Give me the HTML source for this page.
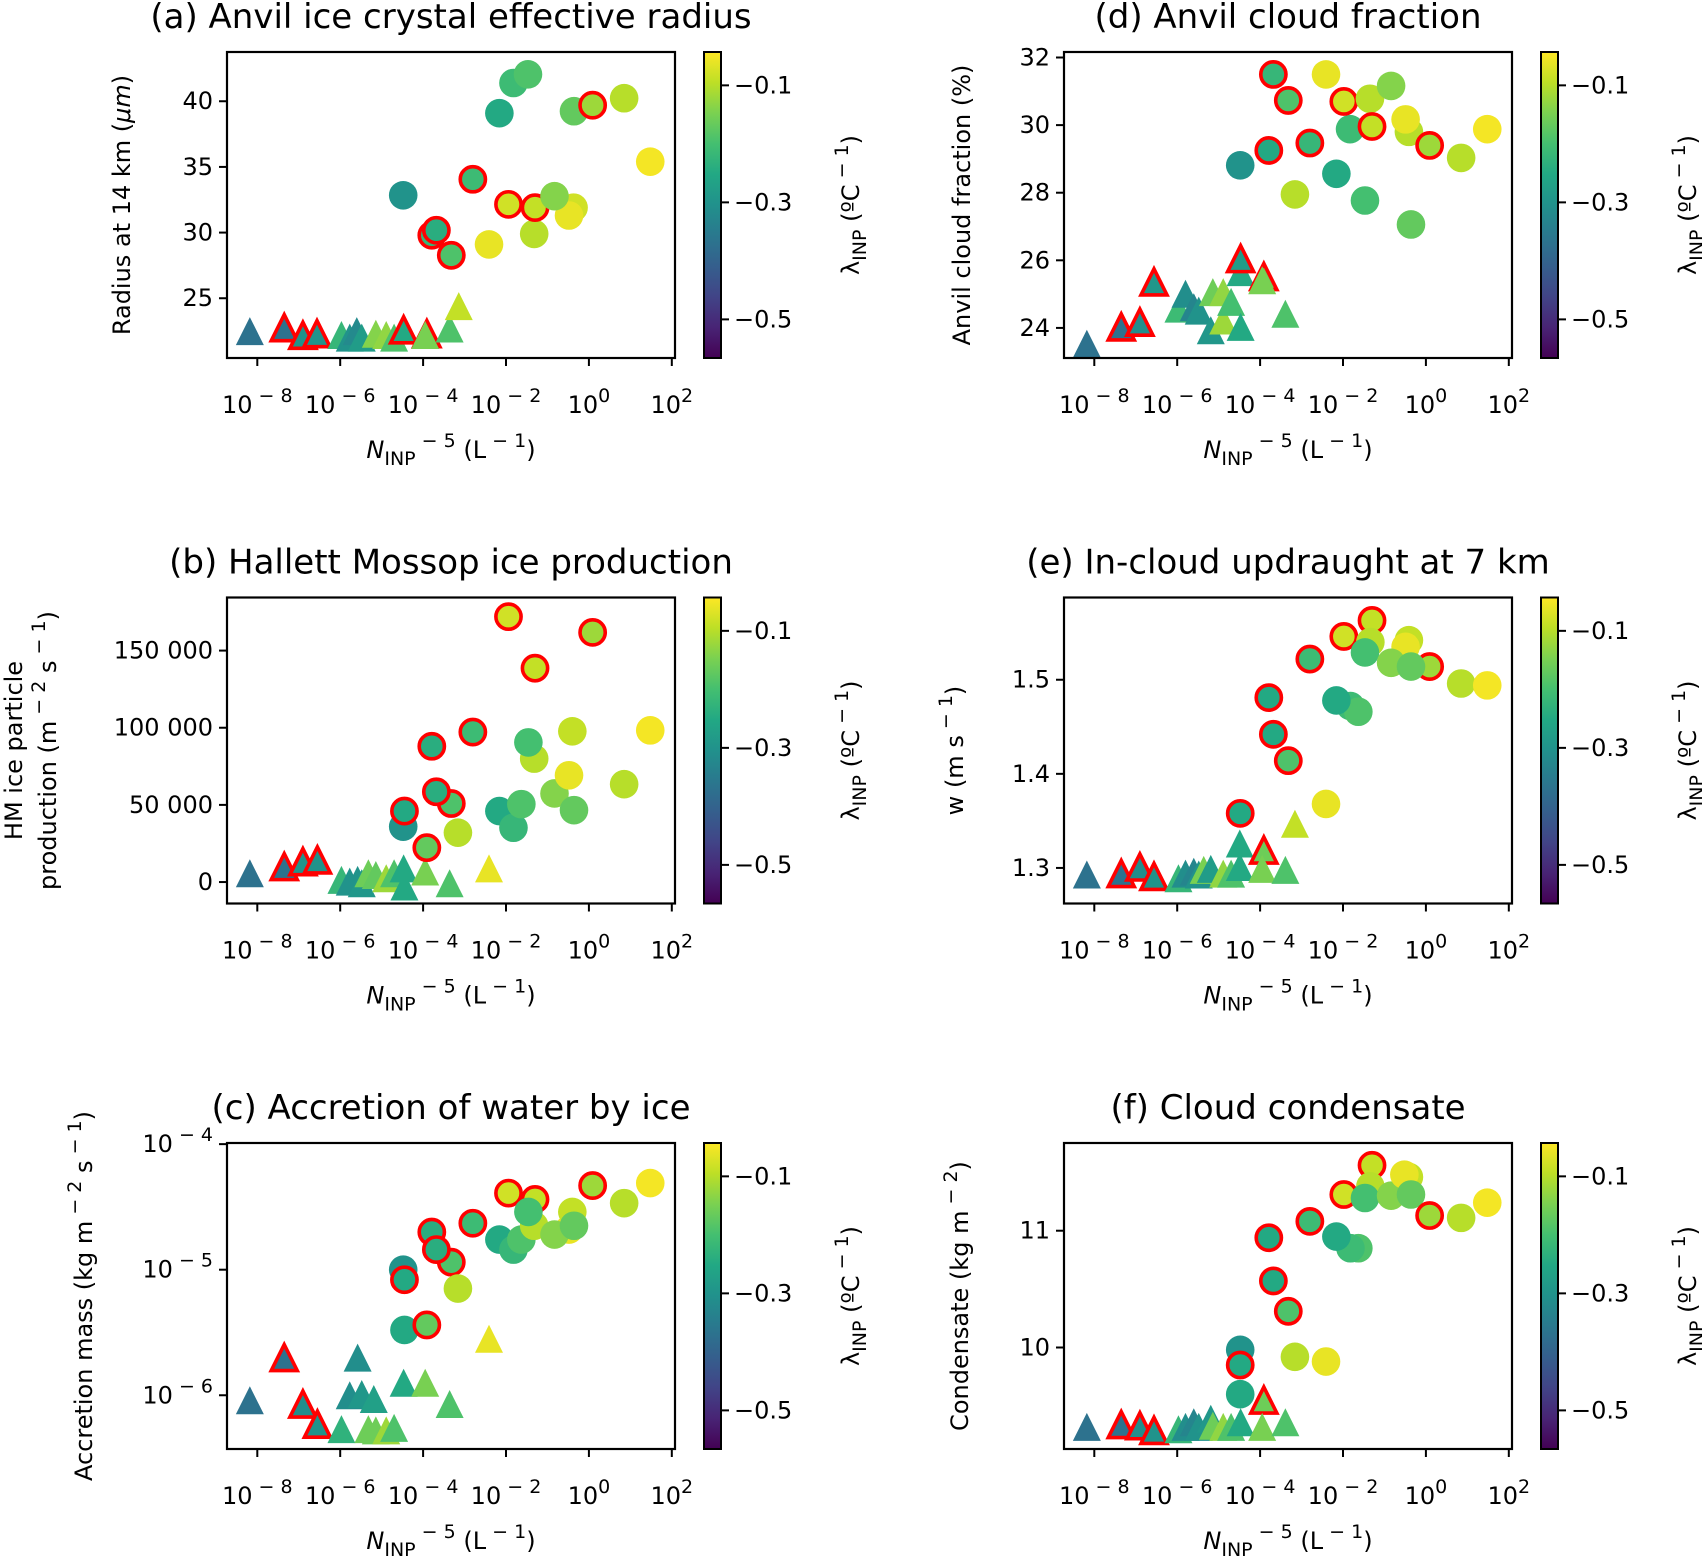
<!DOCTYPE html>
<html><head><meta charset="utf-8"><style>
html,body{margin:0;padding:0;background:#fff;}
svg{display:block;font-family:"DejaVu Sans","Liberation Sans",sans-serif;}
</style></head><body>
<svg id="fig" width="1702" height="1557" viewBox="0 0 1702 1557" xmlns="http://www.w3.org/2000/svg">
<defs>
<linearGradient id="vir" x1="0" y1="1" x2="0" y2="0">
<stop offset="0" stop-color="#440154"/><stop offset="0.1" stop-color="#482475"/><stop offset="0.2" stop-color="#414487"/><stop offset="0.3" stop-color="#355f8d"/><stop offset="0.4" stop-color="#2a788e"/><stop offset="0.5" stop-color="#21918c"/><stop offset="0.6" stop-color="#22a884"/><stop offset="0.7" stop-color="#44bf70"/><stop offset="0.8" stop-color="#7ad151"/><stop offset="0.9" stop-color="#bddf26"/><stop offset="1" stop-color="#fde725"/>
</linearGradient>
</defs>
</svg>
<script>
// rows: [log10 N_INP, value, lambda, redEdge]
const aTri=[[-8.18,22.5,-0.37,0],[-7.35,22.76,-0.37,1],[-6.90,22.18,-0.30,1],[-6.56,22.3,-0.30,1],[-5.97,22.2,-0.22,0],[-5.77,22.0,-0.30,0],[-5.60,22.5,-0.32,0],[-5.48,22.0,-0.28,0],[-5.14,22.3,-0.14,0],[-4.89,22.2,-0.13,0],[-4.70,22.0,-0.19,0],[-4.47,22.6,-0.25,1],[-3.91,22.3,-0.19,1],[-3.95,22.2,-0.15,0],[-3.36,22.7,-0.19,0],[-3.14,24.4,-0.09,0]];
const aCirc=[[-4.48,32.84,-0.30,0],[-3.79,29.8,-0.22,1],[-3.68,30.18,-0.24,1],[-3.32,28.27,-0.19,1],[-2.80,34.06,-0.21,1],[-2.41,29.1,-0.06,0],[-2.16,39.09,-0.25,0],[-1.94,32.15,-0.08,1],[-1.82,41.39,-0.21,0],[-1.47,42.05,-0.19,0],[-1.32,29.9,-0.10,0],[-1.30,31.9,-0.09,1],[-0.37,31.9,-0.08,0],[-0.48,31.3,-0.06,0],[-0.83,32.77,-0.14,0],[-0.36,39.24,-0.17,0],[0.09,39.7,-0.12,1],[0.85,40.23,-0.10,0],[1.48,35.4,-0.05,0]];
const bTri=[[-8.18,5700,-0.37,0],[-7.35,10000,-0.37,1],[-6.90,13200,-0.30,1],[-6.55,14300,-0.30,1],[-5.97,1400,-0.22,0],[-5.77,300,-0.30,0],[-5.58,1400,-0.30,0],[-5.48,-800,-0.29,0],[-5.32,5700,-0.16,0],[-5.14,4600,-0.17,0],[-4.89,2500,-0.12,0],[-4.70,5700,-0.19,0],[-4.47,8900,-0.25,0],[-4.45,-2900,-0.25,0],[-3.95,6800,-0.15,0],[-3.36,-800,-0.19,0],[-2.41,8900,-0.06,0]];
const bCirc=[[-4.48,35900,-0.30,0],[-4.45,46000,-0.25,1],[-3.91,22300,-0.17,1],[-3.79,88000,-0.24,1],[-3.32,50900,-0.19,1],[-3.68,58500,-0.24,1],[-3.16,32000,-0.10,0],[-2.80,97200,-0.21,1],[-2.16,46000,-0.25,0],[-1.94,172000,-0.08,1],[-1.82,35200,-0.22,0],[-1.63,50500,-0.19,0],[-1.32,80000,-0.10,0],[-1.46,90500,-0.20,0],[-1.30,138600,-0.09,1],[-0.83,57400,-0.14,0],[-0.48,69200,-0.06,0],[-0.40,97700,-0.09,0],[-0.36,46600,-0.17,0],[0.09,161800,-0.12,1],[0.85,63400,-0.10,0],[1.48,98300,-0.05,0]];
const cTri=[[-8.18,-6.04,-0.37,0],[-7.35,-5.70,-0.37,1],[-6.90,-6.07,-0.31,1],[-6.55,-6.23,-0.30,1],[-5.97,-6.27,-0.23,0],[-5.77,-6.00,-0.31,0],[-5.58,-5.70,-0.31,0],[-5.48,-5.99,-0.29,0],[-5.19,-6.03,-0.27,0],[-5.32,-6.27,-0.16,0],[-5.14,-6.28,-0.16,0],[-4.89,-6.28,-0.12,0],[-4.70,-6.26,-0.19,0],[-4.47,-5.90,-0.25,0],[-3.95,-5.90,-0.15,0],[-3.36,-6.07,-0.19,0],[-2.41,-5.55,-0.06,0]];
const cCirc=[[-4.48,-5.00,-0.30,0],[-4.45,-5.08,-0.25,1],[-4.45,-5.48,-0.25,0],[-3.91,-5.44,-0.17,1],[-3.79,-4.70,-0.24,1],[-3.32,-4.94,-0.19,1],[-3.68,-4.84,-0.24,1],[-3.16,-5.15,-0.10,0],[-2.80,-4.63,-0.21,1],[-2.16,-4.76,-0.25,0],[-1.82,-4.84,-0.22,0],[-1.63,-4.76,-0.19,0],[-1.94,-4.39,-0.08,1],[-1.30,-4.44,-0.09,1],[-1.32,-4.65,-0.10,0],[-1.46,-4.54,-0.20,0],[-0.48,-4.68,-0.06,0],[-0.83,-4.72,-0.14,0],[-0.40,-4.54,-0.09,0],[-0.36,-4.65,-0.17,0],[0.09,-4.33,-0.12,1],[0.85,-4.47,-0.10,0],[1.48,-4.31,-0.05,0]];
const dTri=[[-8.18,23.53,-0.37,0],[-7.35,24.03,-0.37,1],[-6.90,24.17,-0.31,1],[-6.56,25.36,-0.29,1],[-5.97,24.57,-0.21,0],[-5.80,25.01,-0.31,0],[-5.60,24.61,-0.33,0],[-5.48,24.51,-0.30,0],[-5.19,23.93,-0.29,0],[-5.14,25.06,-0.16,0],[-4.89,25.06,-0.13,0],[-4.89,24.22,-0.12,0],[-4.70,24.77,-0.20,0],[-4.47,24.03,-0.25,0],[-4.47,25.65,-0.25,0],[-4.47,26.05,-0.28,1],[-3.91,25.52,-0.16,1],[-3.95,25.41,-0.15,0],[-3.39,24.42,-0.19,0]];
const dCirc=[[-4.48,28.81,-0.30,0],[-3.79,29.25,-0.25,1],[-3.68,31.50,-0.22,1],[-3.32,30.73,-0.19,1],[-3.16,27.95,-0.10,0],[-2.80,29.47,-0.22,1],[-2.41,31.50,-0.06,0],[-2.16,28.56,-0.25,0],[-1.83,29.88,-0.21,0],[-1.98,30.70,-0.08,1],[-1.47,27.77,-0.20,0],[-1.35,30.78,-0.10,0],[-1.30,29.96,-0.09,1],[-0.84,31.16,-0.14,0],[-0.41,29.80,-0.10,0],[-0.49,30.17,-0.06,0],[-0.36,27.06,-0.17,0],[0.09,29.40,-0.12,1],[0.85,29.03,-0.10,0],[1.48,29.88,-0.05,0]];
const eTri=[[-8.18,1.293,-0.37,0],[-7.35,1.294,-0.37,1],[-6.90,1.301,-0.31,1],[-6.56,1.291,-0.30,1],[-5.97,1.289,-0.22,0],[-5.80,1.294,-0.31,0],[-5.60,1.296,-0.33,0],[-5.48,1.293,-0.30,0],[-5.36,1.298,-0.15,0],[-5.19,1.299,-0.28,0],[-4.89,1.294,-0.13,0],[-4.70,1.294,-0.19,0],[-4.49,1.326,-0.25,0],[-4.49,1.301,-0.25,0],[-3.91,1.319,-0.16,1],[-3.95,1.299,-0.15,0],[-3.39,1.298,-0.19,0],[-3.16,1.347,-0.09,0]];
const eCirc=[[-4.48,1.358,-0.25,1],[-3.79,1.481,-0.25,1],[-3.68,1.442,-0.25,1],[-3.32,1.414,-0.19,1],[-2.80,1.522,-0.21,1],[-2.41,1.368,-0.06,0],[-1.82,1.472,-0.21,0],[-1.63,1.466,-0.19,0],[-2.16,1.478,-0.25,0],[-1.98,1.546,-0.08,1],[-1.30,1.563,-0.09,1],[-1.34,1.540,-0.10,0],[-1.47,1.529,-0.20,0],[-0.41,1.542,-0.09,0],[-0.49,1.535,-0.06,0],[0.09,1.514,-0.12,1],[-0.84,1.518,-0.14,0],[-0.36,1.514,-0.17,0],[0.85,1.496,-0.10,0],[1.48,1.494,-0.05,0]];
const fTri=[[-8.18,9.32,-0.37,0],[-7.35,9.34,-0.37,1],[-6.90,9.33,-0.31,1],[-6.56,9.29,-0.30,1],[-5.97,9.30,-0.22,0],[-5.80,9.32,-0.31,0],[-5.60,9.36,-0.33,0],[-5.48,9.32,-0.30,0],[-5.19,9.39,-0.29,0],[-5.14,9.33,-0.16,0],[-4.89,9.32,-0.13,0],[-4.70,9.32,-0.19,0],[-4.47,9.36,-0.25,0],[-3.91,9.55,-0.16,1],[-3.95,9.32,-0.15,0],[-3.39,9.36,-0.19,0]];
const fCirc=[[-4.48,9.98,-0.30,0],[-4.48,9.85,-0.25,1],[-4.48,9.60,-0.25,0],[-3.79,10.94,-0.25,1],[-3.68,10.57,-0.25,1],[-3.32,10.31,-0.19,1],[-3.16,9.92,-0.10,0],[-2.80,11.08,-0.21,1],[-2.41,9.88,-0.06,0],[-1.63,10.85,-0.19,0],[-1.82,10.85,-0.21,0],[-2.16,10.95,-0.25,0],[-1.98,11.31,-0.08,1],[-1.30,11.56,-0.09,1],[-1.34,11.38,-0.10,0],[-1.47,11.28,-0.20,0],[-0.84,11.30,-0.14,0],[-0.41,11.46,-0.09,0],[-0.52,11.48,-0.06,0],[-0.36,11.31,-0.17,0],[0.09,11.13,-0.12,1],[0.85,11.11,-0.10,0],[1.48,11.24,-0.05,0]];
const xTickExps=[-8,-6,-4,-2,0,2];
const cbarTicks=[-0.1,-0.3,-0.5];
const aTicks=[25,30,35,40];
const bTicks=[0,50000,100000,150000];
const bTickLabels=["0","50 000","100 000","150 000"];
const cTickExps=[-6,-5,-4];
const dTicks=[24,26,28,30,32];
const eTicks=[1.3,1.4,1.5];
const fTicks=[10,11];

const NS="http://www.w3.org/2000/svg";
const svg=document.getElementById('fig');
function el(tag,attrs,parent){const e=document.createElementNS(NS,tag);for(const k in attrs)e.setAttribute(k,attrs[k]);(parent||svg).appendChild(e);return e;}
const vstops=[[68,1,84],[72,36,117],[65,68,135],[53,95,141],[42,120,142],[33,145,140],[34,168,132],[68,191,112],[122,209,81],[189,223,38],[253,231,37]];
const LMIN=-0.566,LMAX=-0.043;
function viridis(l){let t=(l-LMIN)/(LMAX-LMIN);t=Math.max(0,Math.min(1,t))*10;const i=Math.min(9,Math.floor(t)),f=t-i;const a=vstops[i],b=vstops[i+1];return 'rgb('+a.map((v,k)=>Math.round(v+(b[k]-v)*f)).join(',')+')';}
const XMIN=-8.731,XMAX=2.077,W=448,H=306;
const FS=24,SS=19;
// segments: [text, kind] kind: n normal, i italic, u superscript, d subscript
function rich(parent,attrs,segs){
  const t=el('text',attrs,parent);let lvl=0;
  segs.forEach(s=>{
    const target=s[1]==='u'?-11:(s[1]==='d'?7:0);
    const a={dy:target-lvl};lvl=target;
    if(s[1]==='u'||s[1]==='d')a['font-size']=SS;
    if(s[1]==='i')a['font-style']='italic';
    const sp=el('tspan',a,t);sp.textContent=s[0];
  });
  return t;}

const panels=[
 {id:'a',x0:227,y0:52,title:'(a) Anvil ice crystal effective radius',tri:aTri,circ:aCirc,ymin:20.45,ymax:43.75,log:false,ticks:aTicks,labels:aTicks.map(String),ylab:[[['Radius at 14 km  (','n'],['μm','i'],[')','n']]],ylx:[130]},
 {id:'b',x0:227,y0:597.5,title:'(b) Hallett Mossop ice production',tri:bTri,circ:bCirc,ymin:-13900,ymax:184400,log:false,ticks:bTicks,labels:bTickLabels,ylab:[[['HM ice particle','n']],[['production  (m','n'],[' − 2','u'],[' s','n'],[' − 1','u'],[')','n']]],ylx:[22,56]},
 {id:'c',x0:227,y0:1143,title:'(c) Accretion of water by ice',tri:cTri,circ:cCirc,ymin:-6.428,ymax:-3.991,log:true,ticks:cTickExps,labels:null,ylab:[[['Accretion mass  (kg  m','n'],[' − 2','u'],[' s','n'],[' − 1','u'],[')','n']]],ylx:[92]},
 {id:'d',x0:1064,y0:52,title:'(d) Anvil cloud fraction',tri:dTri,circ:dCirc,ymin:23.11,ymax:32.163,log:false,ticks:dTicks,labels:dTicks.map(String),ylab:[[['Anvil cloud fraction (%)','n']]],ylx:[970]},
 {id:'e',x0:1064,y0:597.5,title:'(e) In-cloud updraught at 7 km',tri:eTri,circ:eCirc,ymin:1.2622,ymax:1.5874,log:false,ticks:eTicks,labels:eTicks.map(v=>v.toFixed(1)),ylab:[[['w (m  s','n'],[' − 1','u'],[')','n']]],ylx:[963]},
 {id:'f',x0:1064,y0:1143,title:'(f) Cloud condensate',tri:fTri,circ:fCirc,ymin:9.131,ymax:11.751,log:false,ticks:fTicks,labels:fTicks.map(String),ylab:[[['Condensate (kg  m','n'],[' − 2','u'],[')','n']]],ylx:[968]}
];

panels.forEach(p=>{
  const g=el('g',{});
  
  
  const xs=v=>p.x0+(v-XMIN)/(XMAX-XMIN)*W;
  const ys=v=>p.y0+(p.ymax-v)/(p.ymax-p.ymin)*H;
  const tt=el('text',{x:p.x0+W/2,y:p.y0-24,'font-size':34,'text-anchor':'middle'},g);
  tt.textContent=p.title;
  
  
  const mg=el('g',{},g);
  
  
  p.tri.forEach(d=>{
    const cx=xs(d[0]),cy=ys(d[1]),r=d[3]?13:14;
    const m=el('polygon',{points:`${cx},${cy-r} ${cx-r},${cy+r} ${cx+r},${cy+r}`,fill:viridis(d[2]),stroke:d[3]?'#ff0000':'none','stroke-width':3.6,'stroke-linejoin':'miter'},mg);
    
    
  });
  p.circ.forEach(d=>{
    const cx=xs(d[0]),cy=ys(d[1]);
    const m=el('circle',{cx:cx,cy:cy,r:d[3]?12.6:14.3,fill:viridis(d[2]),stroke:d[3]?'#ff0000':'none','stroke-width':3.6},mg);
    
    
  });
  const fr=el('rect',{x:p.x0,y:p.y0,width:W,height:H,fill:'none',stroke:'#000','stroke-width':2.2},g);
  
  
  const xg=el('g',{},g);
  
  
  xTickExps.forEach(e=>{
    const x=xs(e);
    el('line',{x1:x,x2:x,y1:p.y0+H,y2:p.y0+H+8,stroke:'#000','stroke-width':2},xg);
    const lab=rich(xg,{x:x,y:p.y0+H+55,'font-size':FS,'text-anchor':'middle'},[['10','n'],[e<0?' − '+(-e):String(e),'u']]);
    
    
  });
  const xl=rich(xg,{x:p.x0+W/2,y:p.y0+H+100,'font-size':FS,'text-anchor':'middle'},[['N','i'],['INP','d'],[' − 5','u'],[' (L','n'],[' − 1','u'],[')','n']]);
  
  
  const yg=el('g',{},g);
  
  
  p.ticks.forEach((v,i)=>{
    const y=ys(v);
    el('line',{x1:p.x0-8,x2:p.x0,y1:y,y2:y,stroke:'#000','stroke-width':2},yg);
    let lab;
    if(p.log){lab=rich(yg,{x:p.x0-14,y:y+8,'font-size':FS,'text-anchor':'end'},[['10','n'],[' − '+(-v),'u']]);}
    else{lab=el('text',{x:p.x0-14,y:y+8,'font-size':FS,'text-anchor':'end'},yg);lab.textContent=p.labels[i];}
    
    
  });
  p.ylab.forEach((segs,i)=>{
    const cy=p.y0+H/2;
    const yl=rich(yg,{x:p.ylx[i],y:cy,'font-size':FS,'text-anchor':'middle',transform:`rotate(-90 ${p.ylx[i]} ${cy})`},segs);
    
    
  });
  const cx0=p.x0+W+29,cw=17;
  const cg=el('g',{},g);
  
  
  el('rect',{x:cx0,y:p.y0,width:cw,height:H,fill:'url(#vir)',stroke:'#000','stroke-width':2},cg);
  cbarTicks.forEach(v=>{
    const y=p.y0+(LMAX-v)/(LMAX-LMIN)*H;
    el('line',{x1:cx0+cw,x2:cx0+cw+8,y1:y,y2:y,stroke:'#000','stroke-width':2},cg);
    const t=el('text',{x:cx0+cw+13,y:y+8,'font-size':FS},cg);
    t.textContent='−'+Math.abs(v).toFixed(1);
    
    
  });
  const lx=cx0+155,cy=p.y0+H/2;
  const cl=rich(cg,{x:lx,y:cy,'font-size':FS,'text-anchor':'middle',transform:`rotate(-90 ${lx} ${cy})`},[['λ','n'],['INP','d'],[' (ºC','n'],[' − 1','u'],[')','n']]);
  
  
});
</script>
</body></html>
